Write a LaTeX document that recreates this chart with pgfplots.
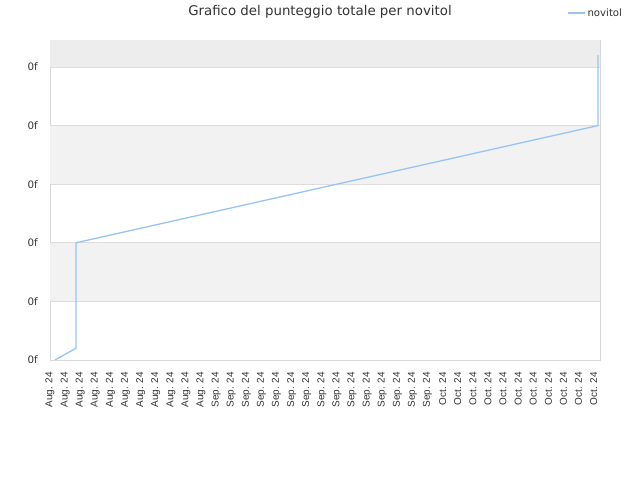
\documentclass[border=0pt]{standalone}
\usepackage{pgfplots}
\pgfplotsset{compat=1.18}
\usepackage{fontspec}
\setmainfont{DejaVu Sans}
\newfontfamily\xlabfont{Liberation Sans}
\definecolor{linecol}{RGB}{150,197,245}
\definecolor{bandgray}{RGB}{242,242,242}
\definecolor{topgray}{RGB}{237,237,237}
\definecolor{gridc}{RGB}{221,221,221}
\definecolor{framec}{RGB}{216,216,216}
\definecolor{textc}{RGB}{51,51,51}
\begin{document}
\begin{tikzpicture}
\useasboundingbox (-50bp,-120bp) rectangle (590bp,360bp);
\begin{axis}[
  scale only axis,
  width=550bp, height=320bp,
  at={(0,0)}, anchor=south west,
  xmin=0, xmax=36.42,
  ymin=0, ymax=5.46,
  axis line style={framec, line width=0.8bp},
  xtick={0,...,36},
  xticklabels={Aug. 24,Aug. 24,Aug. 24,Aug. 24,Aug. 24,Aug. 24,Aug. 24,Aug. 24,Aug. 24,Aug. 24,Aug. 24,Sep. 24,Sep. 24,Sep. 24,Sep. 24,Sep. 24,Sep. 24,Sep. 24,Sep. 24,Sep. 24,Sep. 24,Sep. 24,Sep. 24,Sep. 24,Sep. 24,Sep. 24,Oct. 24,Oct. 24,Oct. 24,Oct. 24,Oct. 24,Oct. 24,Oct. 24,Oct. 24,Oct. 24,Oct. 24,Oct. 24},
  xticklabel style={font=\xlabfont\fontsize{10}{12}\selectfont, rotate=90, anchor=east, text=textc, inner sep=0pt, xshift=0bp},
  xtick style={draw=none},
  ytick={0,1,2,3,4,5},
  yticklabels={0f,0f,0f,0f,0f,0f},
  yticklabel style={font=\fontsize{10.3}{12}\selectfont, text=textc, inner sep=0pt},
  ytick style={draw=none},
  major tick length=0pt,
  xticklabel shift=12bp,
  yticklabel shift=12bp,
  ymajorgrids,
  grid style={gridc, line width=0.8bp},
  axis on top=false,
  title={Grafico del punteggio totale per novitol},
  title style={font=\fontsize{13.4}{15}\selectfont, text=textc, at={(axis description cs:0.4909,1.0875)}, anchor=center, yshift=-6pt, inner sep=0pt},
  legend style={draw=none, fill=none, font=\fontsize{10.2}{12}\selectfont, text=textc, at={(axis description cs:0.94,1.0844)}, anchor=west, inner sep=0pt, legend cell align=left},
  legend image code/.code={\draw[#1] (0bp,0bp) -- (11bp,0bp); \path (0bp,0bp) -- (17bp,0bp);},
]
\fill[topgray] (axis cs:0,5) rectangle (axis cs:36.42,5.46);
\fill[bandgray] (axis cs:0,3) rectangle (axis cs:36.42,4);
\fill[bandgray] (axis cs:0,1) rectangle (axis cs:36.42,2);
\addplot[linecol, line width=1.3bp, mark=none] coordinates {
  (0.33,0) (1.72,0.2) (1.72,0.8) (1.72,1.4) (1.72,2.0) (36.29,4.0) (36.29,5.2)
};
\addlegendentry{novitol}
\end{axis}
\end{tikzpicture}
\end{document}
